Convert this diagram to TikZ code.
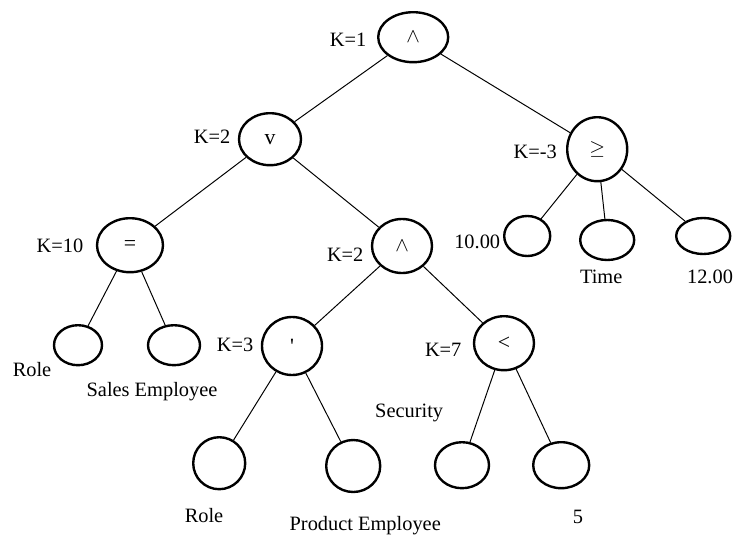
\documentclass[tikz,border=0pt]{standalone}
\usepackage{fontspec}
\setmainfont{Liberation Serif}
\usetikzlibrary{shapes.geometric}

\begin{document}
\begin{tikzpicture}[
    opnode/.style={ellipse, draw, line width=1.7pt, inner sep=0pt,
                 minimum width=1.5cm, minimum height=1.35cm, font=\fontsize{15.5}{17}\selectfont},
    leafnode/.style={ellipse, draw, line width=1.7pt, inner sep=0pt,
                 minimum width=1.3cm, minimum height=1cm},
    txt/.style={inner sep=0pt, font=\fontsize{14.5}{16}\selectfont},
    treeline/.style={line width=0.7pt},
  ]
    \useasboundingbox (0,0) rectangle (18.425,-13.425);
    % operator nodes
    \node[opnode, minimum width=1.75cm, minimum height=1.25cm] (root) at (10.33,-0.93) {$\wedge$};
    \node[opnode, minimum width=1.55cm, minimum height=1.3cm] (or) at (6.75,-3.48) {v};
    \node[opnode, minimum height=1.6cm] (ge) at (14.93,-3.73) {$\geq$};
    \node[opnode, minimum width=1.65cm] (eq) at (3.25,-6.13) {=};
    \node[opnode] (and) at (10.05,-6.15) {$\wedge$};
    \node[opnode, minimum height=1.45cm] (prime) at (7.3,-8.65) {\textquotesingle};
    \node[opnode] (lt) at (12.6,-8.58) {<};
    % leaves
    \node[leafnode, minimum width=1.15cm] (lten) at (13.18,-5.9) {};
    \node[leafnode, minimum width=1.35cm] (ltime) at (15.18,-6.0) {};
    \node[leafnode, minimum width=1.35cm, minimum height=0.9cm] (ltwelve) at (17.58,-5.9) {};
    \node[leafnode, minimum width=1.2cm] (lrole) at (1.95,-8.63) {};
    \node[leafnode] (lsales) at (4.35,-8.63) {};
    \node[leafnode, minimum height=1.3cm] (lroleb) at (5.48,-11.58) {};
    \node[leafnode, minimum width=1.35cm, minimum height=1.3cm] (lprod) at (8.83,-11.65) {};
    \node[leafnode, minimum width=1.35cm, minimum height=1.15cm] (lsec) at (11.55,-11.63) {};
    \node[leafnode, minimum width=1.4cm, minimum height=1.15cm] (lfive) at (14.03,-11.63) {};
    % K labels
    \node[txt] (k1) at (8.7,-1.0) {K=1};
    \node[txt] (k2) at (5.3,-3.43) {K=2};
    \node[txt] (km3) at (13.38,-3.8) {K=-3};
    \node[txt] (k10) at (1.5,-6.15) {K=10};
    \node[txt] (k2b) at (8.63,-6.38) {K=2};
    \node[txt] (k3) at (5.88,-8.63) {K=3};
    \node[txt] (k7) at (11.08,-8.75) {K=7};
    % leaf labels
    \node[txt] (tten) at (11.93,-6.05) {10.00};
    \node[txt] (ttime) at (15.03,-6.93) {Time};
    \node[txt] (ttwelve) at (17.75,-6.93) {12.00};
    \node[txt] (trole) at (0.8,-9.25) {Role};
    \node[txt] (tsales) at (3.8,-9.8) {Sales Employee};
    \node[txt] (tsec) at (10.23,-10.33) {Security};
    \node[txt] (troleb) at (5.1,-12.88) {Role};
    \node[txt] (tprod) at (9.13,-13.13) {Product Employee};
    \node[txt] (tfive) at (14.45,-12.93) {5};
    % edges
    \draw[treeline] (root) -- (or);
    \draw[treeline] (root) -- (ge);
    \draw[treeline] (or) -- (eq);
    \draw[treeline] (or) -- (and);
    \draw[treeline] (ge) -- (lten);
    \draw[treeline] (ge) -- (ltime);
    \draw[treeline] (ge) -- (ltwelve);
    \draw[treeline] (eq) -- (lrole);
    \draw[treeline] (eq) -- (lsales);
    \draw[treeline] (and) -- (prime);
    \draw[treeline] (and) -- (lt);
    \draw[treeline] (prime) -- (lroleb);
    \draw[treeline] (prime) -- (lprod);
    \draw[treeline] (lt) -- (lsec);
    \draw[treeline] (lt) -- (lfive);
\end{tikzpicture}
\end{document}
